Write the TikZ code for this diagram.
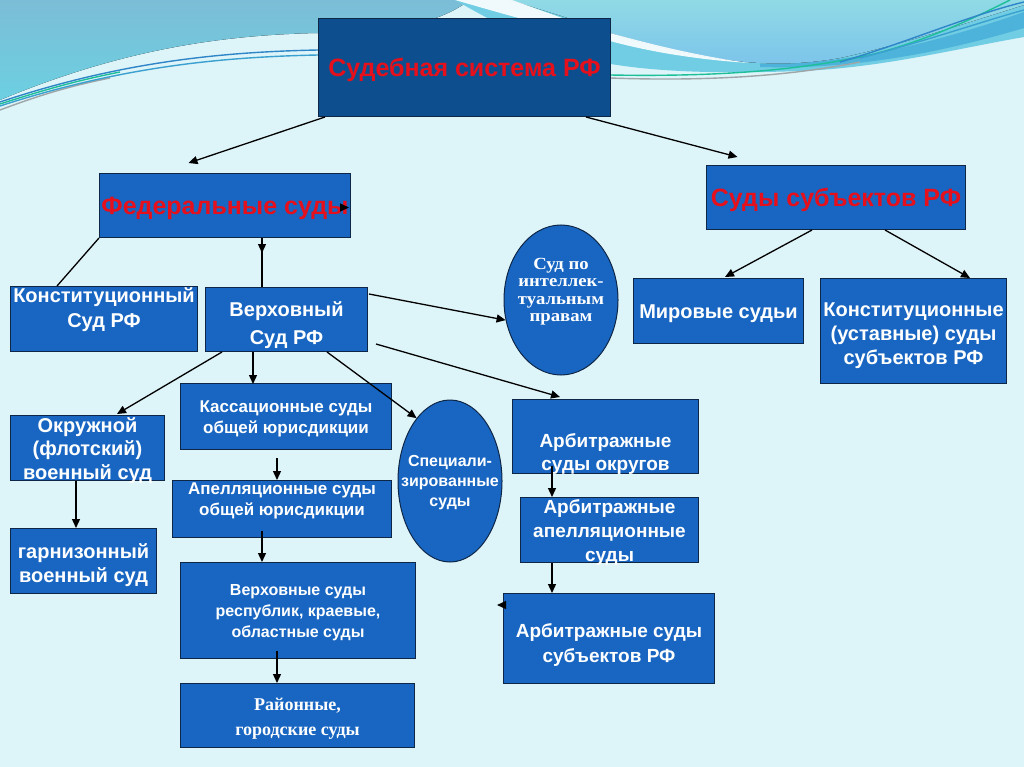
\documentclass[tikz,border=0pt]{standalone}
\usepackage{fontspec}
\setmainfont{Liberation Sans}
\newfontfamily\serifb{Liberation Serif}
\newfontfamily\serifw[FakeStretch=1.1]{Liberation Serif}
\usetikzlibrary{shapes.geometric,arrows.meta,calc}
\definecolor{bg}{HTML}{DDF4F9}
\definecolor{wlefttop}{HTML}{7BBDD6}
\definecolor{wleftbot}{HTML}{6CD0E2}
\definecolor{wcyan}{HTML}{70CDE3}
\definecolor{wmid}{HTML}{4DB3DA}
\definecolor{wtoptop}{HTML}{90DAE6}
\definecolor{wtopbot}{HTML}{7CC4EA}
\definecolor{lblue}{HTML}{2E86C8}
\definecolor{lblue2}{HTML}{3AA0D0}
\definecolor{lgreen}{HTML}{1DBF98}
\definecolor{lgrey}{HTML}{9EA6A8}
\definecolor{boxblue}{HTML}{1866C2}
\definecolor{topblue}{HTML}{0D4F8E}
\definecolor{bdr}{HTML}{0F2747}
\definecolor{titlered}{HTML}{E5101C}
\newcommand\fs[2]{\bfseries\fontsize{#1}{#2}\selectfont}
\newcommand\mtext[2]{\makebox[0pt]{\raisebox{\dimexpr 0pt-(#1)-0.37em\relax}[0pt][0pt]{\begin{tabular}{@{}c@{}}#2\end{tabular}}}}
\tikzset{
  box/.style={draw=bdr, line width=1pt, fill=boxblue, rectangle, inner sep=0pt, anchor=north west, text=white},
  oval/.style={draw=bdr, line width=1pt, fill=boxblue, ellipse, inner sep=0pt, text=white},
  arr/.style={-{Triangle[length=9pt,width=8pt]}, line width=1.3pt, black},
  ln/.style={line width=1.3pt, black},
  wline/.style={line width=1.4pt},
}
\begin{document}
\begin{tikzpicture}[x=1pt,y=-1pt]
\useasboundingbox (0,0) rectangle (1024,767);
\fill[bg] (0,0) rectangle (1024,767);
% background waves
\fill[top color=wlefttop, bottom color=wleftbot] (0,0) -- (470,0) .. controls (440,22) and (400,32) .. (318,33) .. controls (220,35) and (120,50) .. (0,100) -- cycle;
\fill[wcyan] (455,0) -- (1024,0) -- (1024,37) .. controls (950,50) and (880,68) .. (800,71) .. controls (720,74) and (650,72) .. (600,62) .. controls (540,48) and (490,20) .. (455,0) -- cycle;
\fill[wmid] (760,64) .. controls (850,66) and (950,38) .. (1024,12) -- (1024,28) .. controls (950,50) and (860,70) .. (760,67) -- cycle;
\fill[top color=wtoptop, bottom color=wtopbot] (510,0) -- (1024,0) -- (1024,5) .. controls (960,25) and (900,45) .. (840,58) .. controls (800,65) and (770,64) .. (745,62) .. controls (680,55) and (620,38) .. (580,22) .. controls (550,12) and (525,5) .. (510,0) -- cycle;
\fill[white, opacity=0.9] (455,0) -- (512,0) .. controls (540,10) and (580,25) .. (610,33) .. controls (660,47) and (710,58) .. (750,63) .. controls (700,60) and (650,52) .. (610,41) .. controls (540,25) and (490,10) .. (455,0) -- cycle;
\draw[wline, lgrey] (0,110) .. controls (40,95) and (70,86) .. (110,78);
\draw[wline, lgreen] (0,104) .. controls (50,88) and (80,80) .. (120,72);
\draw[wline, lblue] (0,102) .. controls (120,62) and (220,52) .. (318,50);
\draw[wline, lblue2] (0,106) .. controls (120,67) and (220,57) .. (318,55);
\draw[wline, lgrey] (610,78) .. controls (720,82) and (800,74) .. (860,62);
\draw[wline, lgreen] (610,75) .. controls (720,77) and (800,70) .. (870,55) .. controls (930,40) and (980,15) .. (1010,0);
\draw[wline, lblue] (840,62) .. controls (900,45) and (970,15) .. (1024,2);
\draw[wline, lblue2] (860,58) .. controls (930,40) and (980,22) .. (1024,10);
% nodes
\node[box, fill=topblue, text=titlered, minimum width=292pt, minimum height=98pt, font=\fs{25}{28}] (top) at (318,18) {\mtext{0pt}{Судебная система РФ}};
\node[box, text=titlered, minimum width=251pt, minimum height=64pt, font=\fs{25}{30}] (fed) at (99,173) {\mtext{0pt}{Федеральные суды}};
\node[box, text=titlered, minimum width=259pt, minimum height=64pt, font=\fs{25}{30}] (subj) at (706,165) {\mtext{0pt}{Суды субъектов РФ}};
\node[box, minimum width=187pt, minimum height=65pt, font=\fs{20}{25}] (konst) at (10,286) {\mtext{-11pt}{Конституционный\\Суд РФ}};
\node[box, minimum width=162pt, minimum height=64pt, font=\fs{20}{28}] (verh) at (205,287) {\mtext{3pt}{Верховный\\Суд РФ}};
\node[box, minimum width=170pt, minimum height=65pt, font=\fs{20}{24}] (mir) at (633,278) {\mtext{0pt}{Мировые судьи}};
\node[box, minimum width=186pt, minimum height=105pt, font=\fs{20}{24}] (konst2) at (820,278) {\mtext{2pt}{Конституционные\\(уставные) суды\\субъектов РФ}};
\node[oval, minimum width=114pt, minimum height=150pt, font=\serifw\fs{17}{17.5}] (ip) at (561,300) {\mtext{-10pt}{Суд по\\интеллек-\\туальным\\правам}};
\node[box, minimum width=211pt, minimum height=66pt, font=\fs{17}{21}] (kass) at (180,383) {\mtext{0pt}{Кассационные суды\\общей юрисдикции}};
\node[box, minimum width=219pt, minimum height=57pt, font=\fs{17}{21}] (apel) at (172,480) {\mtext{-10pt}{Апелляционные суды\\общей юрисдикции}};
\node[box, minimum width=235pt, minimum height=96pt, font=\fs{16}{21}] (verhsub) at (180,562) {\mtext{0pt}{Верховные суды\\республик, краевые,\\областные суды}};
\node[box, minimum width=234pt, minimum height=64pt, font=\serifb\fs{18}{25}] (rayon) at (180,683) {\mtext{0pt}{Районные,\\городские суды}};
\node[box, minimum width=154pt, minimum height=65pt, font=\fs{20}{23.5}] (okr) at (10,415) {\mtext{1pt}{Окружной\\(флотский)\\военный суд}};
\node[box, minimum width=146pt, minimum height=65pt, font=\fs{20}{24}] (garn) at (10,528) {\mtext{2pt}{гарнизонный\\военный суд}};
\node[oval, minimum width=104pt, minimum height=162pt, font=\fs{16}{20}] (spec) at (450,481) {\mtext{0pt}{Специали-\\зированные\\суды}};
\node[box, minimum width=186pt, minimum height=74pt, font=\fs{19}{23}] (arbokr) at (512,399) {\mtext{15pt}{Арбитражные\\суды округов}};
\node[box, minimum width=178pt, minimum height=65pt, font=\fs{19}{24}] (arbapel) at (520,497) {\mtext{0pt}{Арбитражные\\апелляционные\\суды}};
\node[box, minimum width=211pt, minimum height=90pt, font=\fs{19}{25}] (arbsub) at (503,593) {\mtext{4pt}{Арбитражные суды\\субъектов РФ}};
% connectors
\draw[arr] ($(top.south west)+(7,0)$) -- ($(fed.north)+(-36.5,-10)$);
\draw[arr] ($(top.south east)+(-25,0)$) -- ($(subj.north)+(-98.5,-8)$);
\draw[ln] ($(fed.south west)+(163,0)$) -- ($(verh.north west)+(57,0)$);
\draw[arr] ($(fed.south west)+(163,0)$) -- ($(fed.south west)+(163,15)$);
\draw[arr] ($(fed.east)+(-10,2)$) -- ($(fed.east)+(-2,2)$);
\draw[ln] (fed.south west) -- ($(konst.north west)+(47,0)$);
\draw[arr] ($(verh.south west)+(48,0)$) -- ($(kass.north west)+(73,1)$);
\draw[arr] ($(verh.south west)+(17,0)$) -- ($(okr.north west)+(107,-1)$);
\draw[arr] ($(verh.south west)+(122,0)$) -- (spec.118);
\draw[arr] ($(verh.north east)+(1,7)$) -- (ip.200);
\draw[arr] ($(verh.south east)+(8,-8)$) -- ($(arbokr.north west)+(48,-2)$);
\draw[arr] ($(kass.south west)+(97,8)$) -- ($(apel.north west)+(105,0)$);
\draw[arr] ($(apel.south west)+(90,-7)$) -- ($(verhsub.north west)+(82,0)$);
\draw[arr] ($(verhsub.south west)+(97,-8)$) -- ($(rayon.north west)+(97,0)$);
\draw[arr] ($(okr.south west)+(66,0)$) -- ($(garn.north west)+(66,0)$);
\draw[arr] ($(arbokr.south west)+(40,-8)$) -- ($(arbapel.north west)+(32,0)$);
\draw[arr] ($(arbapel.south west)+(32,0)$) -- ($(arbsub.north west)+(49,0)$);
\draw[arr] ($(arbsub.north west)+(0,12)$) -- ($(arbsub.north west)+(-6,12)$);
\draw[arr] ($(subj.south west)+(106,0)$) -- ($(mir.north west)+(92,-1)$);
\draw[arr] ($(subj.south west)+(179,0)$) -- ($(konst2.north west)+(150,0)$);
\end{tikzpicture}
\end{document}
